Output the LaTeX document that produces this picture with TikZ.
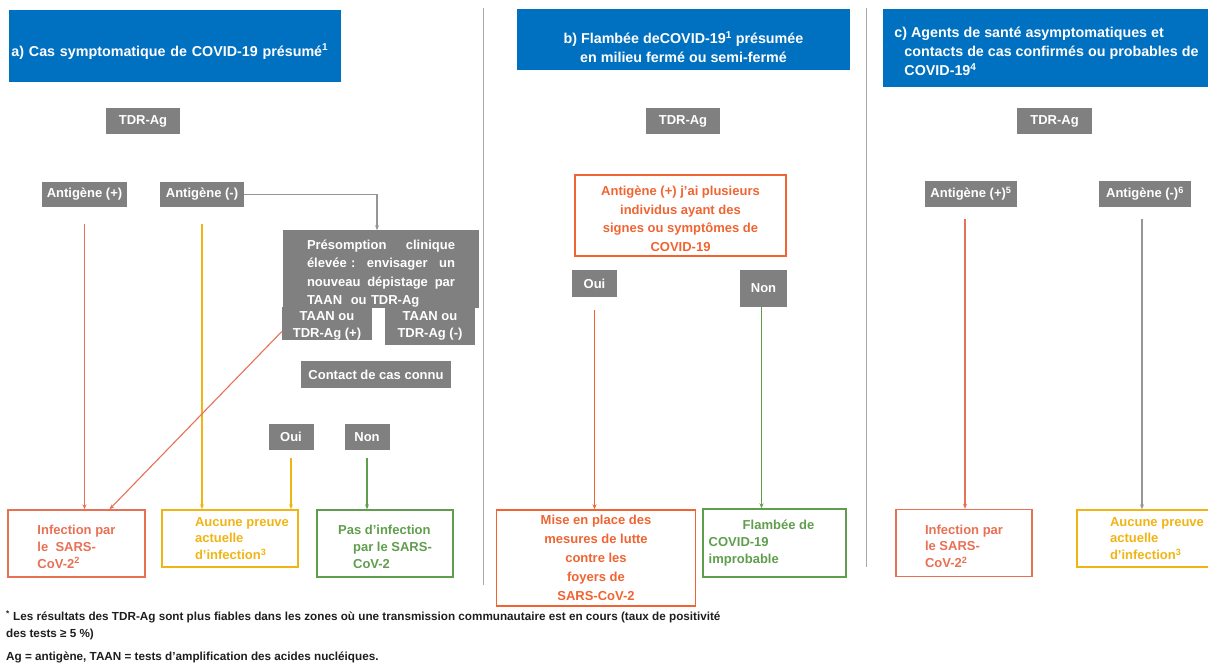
\documentclass[tikz,border=0pt]{standalone}
\usepackage{fontspec}
\setmainfont{Liberation Sans}
\usetikzlibrary{arrows.meta}
\definecolor{hdrblue}{RGB}{0,112,192}
\definecolor{boxgray}{RGB}{128,128,128}
\definecolor{infred}{RGB}{232,112,84}
\definecolor{orn}{RGB}{240,100,50}
\definecolor{ylw}{RGB}{240,180,20}
\definecolor{grn}{RGB}{96,158,78}
\definecolor{linegray}{RGB}{150,150,150}
\definecolor{divgray}{RGB}{170,170,170}
\definecolor{foottext}{RGB}{30,30,30}
\newcommand{\dgfont}{\bfseries\fontsize{13}{18.5}\selectfont}
\newcommand{\resfont}{\bfseries\fontsize{13}{16.8}\selectfont}
\newcommand{\bigfont}{\bfseries\fontsize{14.3}{19}\selectfont}
\newcommand{\ftfont}{\bfseries\fontsize{11.7}{16}\selectfont}

\begin{document}
\begin{tikzpicture}[x=1pt,y=-1pt,
    every node/.style={font=\dgfont},
    graybox/.style={fill=boxgray,text=white,inner sep=0pt},
    hdrbox/.style={fill=hdrblue,text=white,inner sep=0pt,font=\bigfont},
    resbox/.style={draw=#1,line width=1.4pt,text=#1,inner sep=0pt,font=\resfont},
    conn/.style={draw=#1,line width=1.1pt,-{Stealth[length=5pt,width=4pt]}},
    divline/.style={draw=divgray,line width=1pt},
    foot/.style={font=\ftfont,text=foottext,inner sep=0pt,anchor=west}]

    \useasboundingbox (0,0) rectangle (1208,665);
    \clip (0,0) rectangle (1208,665);

    % dividers between the three panels
    \draw[divline] (483,8) -- (483,585);
    \draw[divline] (866,8) -- (866,567);

    % panel a
    \node[hdrbox,minimum width=332,minimum height=72,text width=327,align=left] (hdrA) at (175,46) {\rule{0pt}{23pt}a) Cas symptomatique de COVID-19 présumé\textsuperscript{1}};
    \node[graybox,minimum width=74,minimum height=26] (tdrA) at (143,121) {TDR-Ag};
    \node[graybox,minimum width=85,minimum height=25] (agPosA) at (84.5,194.5) {Antigène (+)};
    \node[graybox,minimum width=84,minimum height=25] (agNegA) at (202,194.5) {Antigène (-)};
    \node[graybox,minimum width=196,minimum height=76,text width=148,align=left] (presA) at (381,269) {\rule{0pt}{19pt}Présomption\hfill clinique\\élevée :\hfill envisager\hfill un\\nouveau\hfill dépistage\hfill par\\TAAN\ \ ou TDR-Ag};
    \node[graybox,font=\resfont,minimum width=90,minimum height=33,align=center] (taanPos) at (327,323.5) {\rule{0pt}{14pt}TAAN ou\\TDR-Ag (+)};
    \node[graybox,font=\resfont,minimum width=90,minimum height=38,align=center] (taanNeg) at (430,326) {TAAN ou\\TDR-Ag (-)};
    \node[graybox,minimum width=150,minimum height=27] (contact) at (376,374.5) {Contact de cas connu};
    \node[graybox,minimum width=45,minimum height=26] (ouiA) at (291,437) {Oui};
    \node[graybox,minimum width=45,minimum height=26] (nonA) at (367,437) {Non};

    \node[resbox=infred,minimum width=137,minimum height=67,align=left] (infA) at (76.5,543.5) {\rule{0pt}{16pt}Infection par\\le\ \ SARS-\\CoV-2\textsuperscript{2}};
    \node[resbox=ylw,minimum width=136,minimum height=57,align=left] (aucA) at (230,538.5) {\hspace*{24pt}Aucune preuve\\\hspace*{24pt}actuelle\\\hspace*{24pt}d’infection\textsuperscript{3}};
    \node[resbox=grn,minimum width=136,minimum height=67,align=left] (pasA) at (385,543.5) {\rule{0pt}{16pt}Pas d’infection\\\hspace*{15pt}par le SARS-\\\hspace*{15pt}CoV-2};

    \draw[conn=infred,shorten <=17pt] (agPosA.south) -- (agPosA.south |- infA.north);
    \draw[conn=ylw,shorten <=17pt] (agNegA.south) -- (agNegA.south |- aucA.north);
    \draw[conn=linegray] (agNegA.east) -| ([xshift=-4pt]presA.north);
    \draw[conn=infred] ([yshift=-8pt]taanPos.west) -- ([xshift=33pt]infA.north);
    \draw[conn=ylw,shorten <=8pt] (ouiA.south) -- (ouiA.south |- aucA.north);
    \draw[conn=grn,shorten <=8pt] (nonA.south) -- (nonA.south |- pasA.north);

    % panel b
    \node[hdrbox,minimum width=333,minimum height=61,align=center] (hdrB) at (683.5,39.5) {\rule{0pt}{27pt}b) Flambée deCOVID-19\textsuperscript{1} présumée\\en milieu fermé ou semi-fermé};
    \node[graybox,minimum width=74,minimum height=26] (tdrB) at (683,121) {TDR-Ag};
    \node[resbox=orn,font=\dgfont,minimum width=211,minimum height=81,align=center] (agB) at (680.5,215.5) {\rule{0pt}{16pt}Antigène (+) j’ai plusieurs\\individus ayant des\\signes ou symptômes de\\COVID-19};
    \node[graybox,minimum width=45,minimum height=27] (ouiB) at (594.5,283.5) {Oui};
    \node[graybox,minimum width=47,minimum height=37] (nonB) at (763.5,288.5) {Non};
    \node[resbox=orn,font=\bfseries\fontsize{13}{19}\selectfont,minimum width=199,minimum height=96,align=center] (miseB) at (596,558) {Mise en place des\\mesures de lutte\\contre les\\foyers de\\SARS-CoV-2};
    \node[resbox=grn,minimum width=143,minimum height=68,align=left] (flamB) at (774.5,543) {\hspace*{34pt}Flambée de\hspace*{26pt}\\COVID-19\\improbable};

    \draw[conn=orn,shorten <=13pt] (ouiB.south) -- (ouiB.south |- miseB.north);
    \draw[conn=grn] ([xshift=-2pt]nonB.south) -- ([xshift=-2pt]nonB.south |- flamB.north);

    % panel c
    \node[hdrbox,minimum width=327,minimum height=78,align=left] (hdrC) at (1046.5,48) {\rule{0pt}{17pt}c) Agents de santé asymptomatiques et\\\hspace*{10pt}contacts de cas confirmés ou probables de\\\hspace*{10pt}COVID-19\textsuperscript{4}};
    \node[graybox,minimum width=75,minimum height=26] (tdrC) at (1054.5,121) {TDR-Ag};
    \node[graybox,minimum width=92,minimum height=26] (agPosC) at (971,194) {Antigène (+)\textsuperscript{5}};
    \node[graybox,minimum width=92,minimum height=26] (agNegC) at (1145,194) {Antigène (-)\textsuperscript{6}};
    \node[resbox=infred,minimum width=136,minimum height=67,align=left] (infC) at (964,543) {\rule{0pt}{16pt}Infection par\\le SARS-\\CoV-2\textsuperscript{2}};
    \node[resbox=ylw,minimum width=134,minimum height=57,align=left] (aucC) at (1144,538.5) {\hspace*{26pt}Aucune preuve\\\hspace*{26pt}actuelle\\\hspace*{26pt}d’infection\textsuperscript{3}};

    \draw[conn=infred,shorten <=12pt] ([xshift=-6pt]agPosC.south) -- ([xshift=-6pt]agPosC.south |- infC.north);
    \draw[conn=linegray,shorten <=12pt] ([xshift=-3pt]agNegC.south) -- ([xshift=-3pt]agNegC.south |- aucC.north);

    % footnotes
    \node[foot] (ftA) at (6,617) {\textsuperscript{*} Les résultats des TDR-Ag sont plus fiables dans les zones où une transmission communautaire est en cours (taux de positivité};
    \node[foot] (ftB) at (6,634) {des tests ≥ 5 \%)};
    \node[foot] (ftC) at (6,657) {Ag = antigène, TAAN = tests d’amplification des acides nucléiques.};
\end{tikzpicture}
\end{document}
